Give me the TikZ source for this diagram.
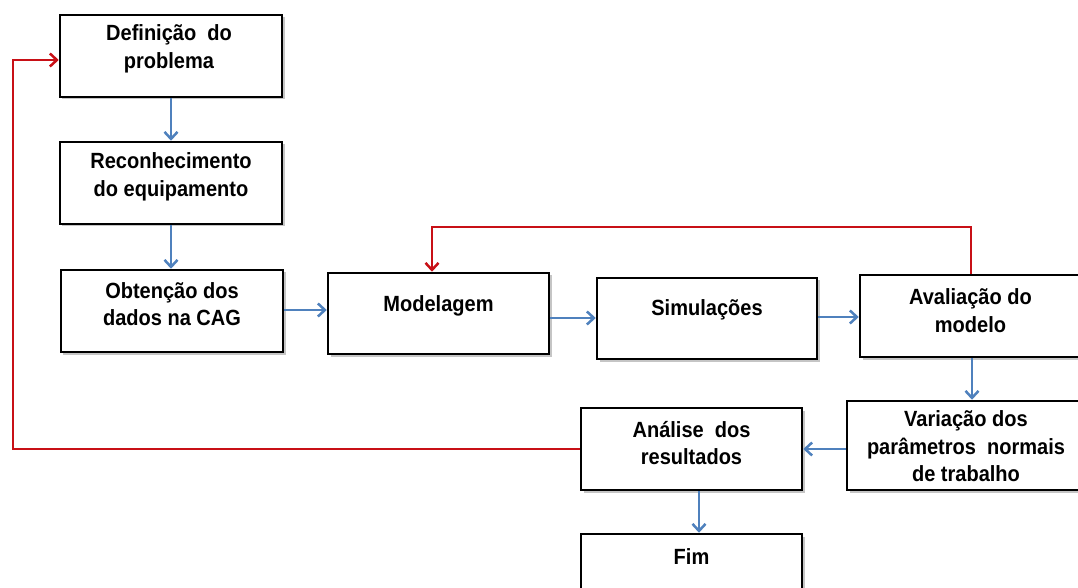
\documentclass[tikz,border=0pt]{standalone}
\usepackage{fontspec}
\setmainfont{Liberation Sans}[FakeStretch=0.91]
\usetikzlibrary{shadows,arrows.meta,calc}
\definecolor{flowblue}{RGB}{79,129,189}
\definecolor{flowred}{RGB}{200,16,22}
\begin{document}
\begin{tikzpicture}[x=1bp,y=-1bp,
  box/.style={draw=black, line width=2.5bp, fill=white, inner sep=0pt,
    drop shadow={shadow xshift=2.5bp, shadow yshift=-2.5bp, opacity=0.45}},
  lbl/.style={font=\bfseries\fontsize{22bp}{27.5bp}\selectfont, align=center, inner sep=0pt},
  flow/.style={draw=flowblue, line width=2.5bp,
    -{Straight Barb[length=7bp,width=13bp,line width=2.5bp]}},
  back/.style={draw=flowred, line width=2.5bp, line join=miter,
    -{Straight Barb[length=7bp,width=13bp,line width=2.5bp]}}]
\useasboundingbox (0,0) rectangle (1078,588);
\fill[white] (0,0) rectangle (1078,588);

% boxes
\node[box, minimum width=222bp, minimum height=82bp] (def) at (171,56) {};
\node[box, minimum width=222bp, minimum height=82bp] (rec) at (171,183) {};
\node[box, minimum width=222bp, minimum height=82bp] (obt) at (172,311) {};
\node[box, minimum width=221bp, minimum height=81bp] (mod) at (438.5,313.5) {};
\node[box, minimum width=220bp, minimum height=81bp] (sim) at (707,318.5) {};
\node[box, minimum width=222bp, minimum height=82bp] (aval) at (971,316) {};
\node[box, minimum width=238bp, minimum height=89bp] (var) at (966,445.5) {};
\node[box, minimum width=221bp, minimum height=82bp] (ana) at (691.5,449) {};
\node[box, minimum width=221bp, minimum height=86bp] (fim) at (691.5,577) {};

% texts
\node[lbl] (deft) at (169,49) {Definição\hspace{0.25em} do\\problema};
\node[lbl] (rect) at (171,177) {Reconhecimento\\do equipamento};
\node[lbl] (obtt) at (172,304) {Obtenção dos\\dados na CAG};
\node[lbl] (modt) at (438.5,306) {Modelagem};
\node[lbl] (simt) at (707,310) {Simulações};
\node[lbl] (avalt) at (970.5,310.5) {Avaliação do\\modelo};
\node[lbl] (vart) at (966,446.5) {Variação dos\\parâmetros\hspace{0.25em} normais\\de trabalho};
\node[lbl] (anat) at (691.5,443) {Análise\hspace{0.25em} dos\\resultados};
\node[lbl] (fimt) at (691.5,557) {Fim};

% blue flow
\draw[flow] (def.south) -- (rec.north);
\draw[flow] (rec.south) -- (obt.north -| rec.south);
\draw[flow] (obt.east |- 0,310) -- (mod.west |- 0,310);
\draw[flow] (mod.east |- 0,318) -- (sim.west |- 0,318);
\draw[flow] (sim.east |- 0,317) -- (aval.west |- 0,317);
\draw[flow] (aval.south -| 972,0) -- (var.north -| 972,0);
\draw[flow] (var.west |- ana.east) -- (ana.east);
\draw[flow] (ana.south -| 699,0) -- (fim.north -| 699,0);

% red feedback
\coordinate (rl1) at (13,449);
\coordinate (rl2) at (13,60);
\draw[back] (ana.west) -- (rl1) -- (rl2) -- (def.west |- rl2);
\coordinate (rt1) at (971,227);
\coordinate (rt2) at (432,227);
\draw[back] (aval.north) -- (rt1) -- (rt2) -- (mod.north -| rt2);
\end{tikzpicture}
\end{document}
